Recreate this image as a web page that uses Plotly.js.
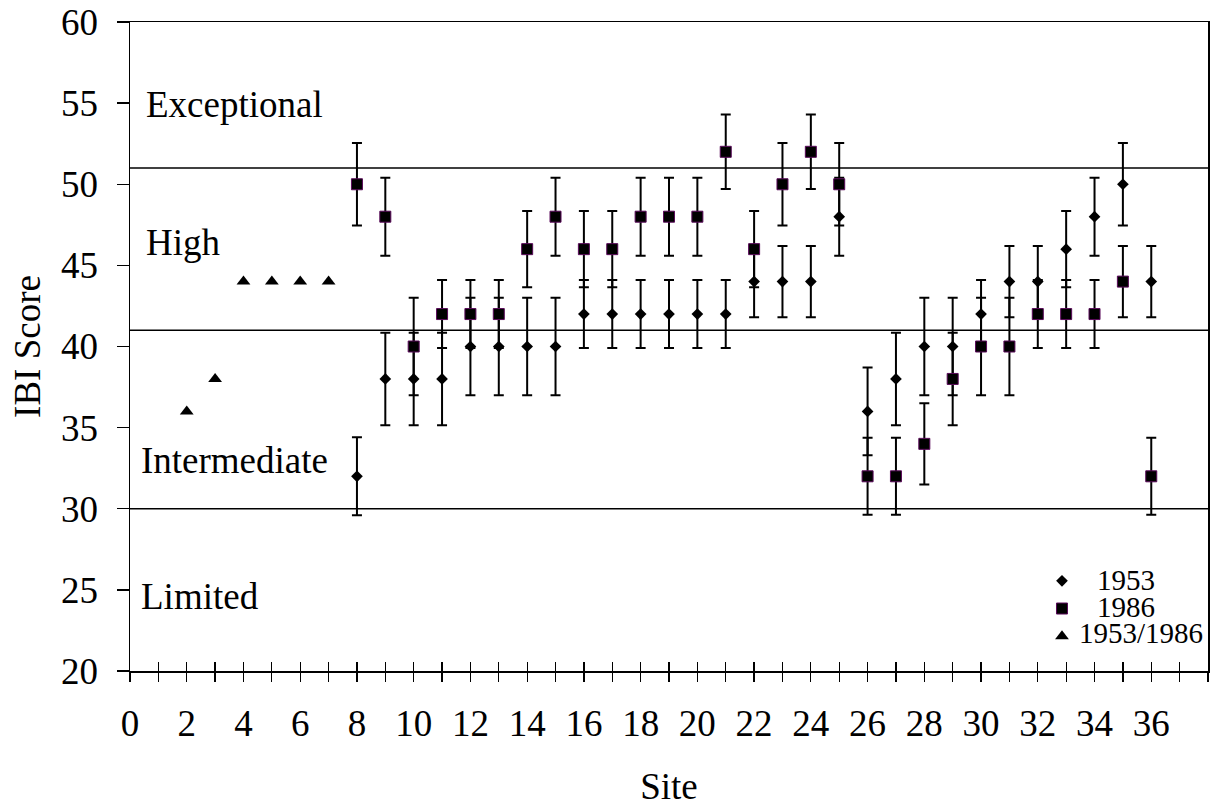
<!DOCTYPE html>
<html>
<head>
<meta charset="utf-8">
<script src="https://cdn.plot.ly/plotly-3.0.1.min.js"></script>
<style>html,body{margin:0;padding:0;background:#fff;}#chart{width:1213px;height:809px;}</style>
</head>
<body>
<div id="chart"></div>
<script>
// ---- data ----
const sites1953 = [8,9,10,11,12,13,14,15,16,17,18,19,20,21,22,23,24,25,26,27,28,29,30,31,32,33,34,35,36];
const ibi1953   = [32,38,38,38,40,40,40,40,42,42,42,42,42,42,44,44,44,48,36,38,40,40,42,44,44,46,48,50,44];
const err1953   = [2.4,2.85,2.85,2.85,3,3,3,3,2.1,2.1,2.1,2.1,2.1,2.1,2.2,2.2,2.2,2.4,2.7,2.85,3,3,2.1,2.2,2.2,2.35,2.4,2.55,2.2];

const sites1986 = [8,9,10,11,12,13,14,15,16,17,18,19,20,21,22,23,24,25,26,27,28,29,30,31,32,33,34,35,36];
const ibi1986   = [50,48,40,42,42,42,46,48,46,46,48,48,48,52,46,50,52,50,32,32,34,38,40,40,42,42,42,44,32];
const err1986   = [2.55,2.4,3,2.1,2.1,2.1,2.35,2.4,2.35,2.35,2.4,2.4,2.4,2.3,2.35,2.55,2.3,2.55,2.37,2.37,2.5,2.85,3,3,2.1,2.1,2.1,2.2,2.37];

const sitesBoth = [2,3,4,5,6,7];
const ibiBoth   = [36,38,44,44,44,44];

const bandLines  = [51,41,30];
const bandLabels = ["Exceptional","High","Intermediate","Limited"];
const bandLabelX = [0.5,0.5,0.32,0.32];
const bandLabelY = [54.9,46.4,33.0,24.6];

const xTickVals = [0,2,4,6,8,10,12,14,16,18,20,22,24,26,28,30,32,34,36];
const seriesNames = ["1953","1986","1953/1986"];

// ---- chart ----
const FONT = "Liberation Serif, Times New Roman, serif";
const BIG = 37;
const errStyle = {type:'data', visible:true, color:'#000', thickness:2, width:5};

const traces = [
  {x: sites1953, y: ibi1953, type:'scatter', mode:'markers', name: ' ',
   marker:{symbol:'diamond', size:9, color:'#000'},
   error_y: Object.assign({array: err1953, symmetric:true}, errStyle)},
  {x: sites1986, y: ibi1986, type:'scatter', mode:'markers', name: ' ',
   marker:{symbol:'square', size:11, color:'#000', line:{color:'#5a0a5a', width:1}},
   error_y: Object.assign({array: err1986, symmetric:true}, errStyle)},
  {x: sitesBoth, y: ibiBoth, type:'scatter', mode:'markers', name: ' ',
   marker:{symbol:'triangle-up', size:12, color:'#000'}},
  {x:[null], y:[null], xaxis:'x2', type:'scatter', mode:'markers', showlegend:false, hoverinfo:'skip'}
];

const shapes = bandLines.map(v => ({type:'line', xref:'paper', x0:0, x1:1, yref:'y', y0:v, y1:v,
  line:{color:'#000', width:1.5}, layer:'below'}));

const annotations = bandLabels.map((t,i) => ({text:t, x:bandLabelX[i], y:bandLabelY[i], xref:'x', yref:'y',
  xanchor:'left', yanchor:'middle', showarrow:false, font:{family:FONT, size:BIG, color:'#000'}}));

// legend labels (text next to the legend markers)
const legTextX = [0.8961, 0.8961, 0.8794];
const legTextY = [0.1402, 0.0986, 0.0586];
seriesNames.forEach((t,i) => annotations.push({text:t, xref:'paper', yref:'paper', x:legTextX[i], y:legTextY[i],
  xanchor:'left', yanchor:'middle', showarrow:false, borderpad:0,
  font:{family:FONT, size:29, color:'#000'}}));

const layout = {
  width:1213, height:809,
  margin:{l:130, r:5, t:22, b:138},
  paper_bgcolor:'#fff', plot_bgcolor:'#fff',
  font:{family:FONT, color:'#000', size:BIG},
  showlegend:true,
  legend:{x:0.846, xanchor:'left', y:0.168, yanchor:'top', bgcolor:'rgba(0,0,0,0)',
          font:{family:FONT, size:19, color:'#000'}, tracegroupgap:0},
  xaxis:{range:[0,38], tickmode:'array', tickvals:xTickVals, ticktext:xTickVals.map(String),
         ticks:'outside', ticklen:9, tickwidth:1.3, tickcolor:'#000',
         minor:{dtick:1, tick0:0, ticks:'outside', ticklen:9, tickwidth:1.3, tickcolor:'#000'},
         showline:true, linecolor:'#000', linewidth:1.5, mirror:true,
         showgrid:false, zeroline:false, ticklabelstandoff:10,
         tickfont:{family:FONT, size:BIG, color:'#000'},
         title:{text:'Site', font:{family:FONT, size:BIG, color:'#000'}, standoff:30}},
  xaxis2:{range:[0,38], overlaying:'x', anchor:'y', side:'bottom', dtick:1, tick0:0,
          ticks:'inside', ticklen:9, tickwidth:1.3, tickcolor:'#000',
          showticklabels:false, showgrid:false, zeroline:false, showline:false},
  yaxis:{range:[20,60], dtick:5, ticks:'outside', ticklen:12, tickwidth:1.3, tickcolor:'#000',
         showline:true, linecolor:'#000', linewidth:1.5, mirror:true,
         showgrid:false, zeroline:false, ticklabelstandoff:11,
         tickfont:{family:FONT, size:BIG, color:'#000'},
         title:{text:'IBI Score', font:{family:FONT, size:BIG, color:'#000'}, standoff:9}},
  shapes: shapes,
  annotations: annotations
};

Plotly.newPlot('chart', traces, layout, {staticPlot:true, displayModeBar:false});
</script>
</body>
</html>
